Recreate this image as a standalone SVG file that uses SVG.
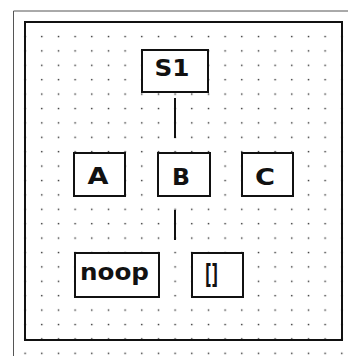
<svg xmlns="http://www.w3.org/2000/svg" width="348" height="356" viewBox="0 0 348 356">
<style>
.box{fill:#fff;stroke:#111;stroke-width:2}
.lbl{font-family:"DejaVu Sans","Liberation Sans",sans-serif;font-weight:bold;font-size:23px;fill:#111;text-anchor:middle}
.conn{stroke:#111;stroke-width:2;fill:none}
</style>
<defs>
<pattern id="dots" patternUnits="userSpaceOnUse" x="16.667" y="14.8" width="16.667" height="14.4">
<rect x="7.75" y="6.6" width="1.4" height="1.4" fill="#222"/>
</pattern>
</defs>
<rect width="348" height="356" fill="#fff"/>
<g id="outer-frame">
<path d="M13.5 356 V11 H348" fill="none" stroke="#555" stroke-width="1"/>
</g>
<rect x="20" y="28" width="328" height="328" fill="url(#dots)"/>
<g id="frame">
<rect x="25" y="22" width="317" height="318" fill="none" stroke="#111" stroke-width="2"/>
</g>
<g id="connectors">
<line class="conn" x1="175" y1="98" x2="175" y2="138"/>
<line class="conn" x1="175" y1="210" x2="175" y2="240"/>
</g>
<g id="S1"><rect class="box" x="142" y="50" width="66" height="42"/><text class="lbl" x="172" y="76" textLength="35" lengthAdjust="spacingAndGlyphs">S1</text></g>
<g id="A"><rect class="box" x="74" y="153" width="51" height="43"/><text class="lbl" x="98" y="184" textLength="21" lengthAdjust="spacingAndGlyphs">A</text></g>
<g id="B"><rect class="box" x="158" y="153" width="52" height="43"/><text class="lbl" x="181" y="185" textLength="18" lengthAdjust="spacingAndGlyphs">B</text></g>
<g id="C"><rect class="box" x="242" y="153" width="51" height="43"/><text class="lbl" x="265" y="185" textLength="20" lengthAdjust="spacingAndGlyphs">C</text></g>
<g id="noop"><rect class="box" x="75" y="253" width="84" height="44"/><text class="lbl" x="114.5" y="280" textLength="69" lengthAdjust="spacingAndGlyphs">noop</text></g>
<g id="empty"><rect class="box" x="192" y="253" width="51" height="44"/><text class="lbl" x="211.5" y="283" style="font-size:27px" textLength="13" lengthAdjust="spacingAndGlyphs">[]</text></g>
</svg>
